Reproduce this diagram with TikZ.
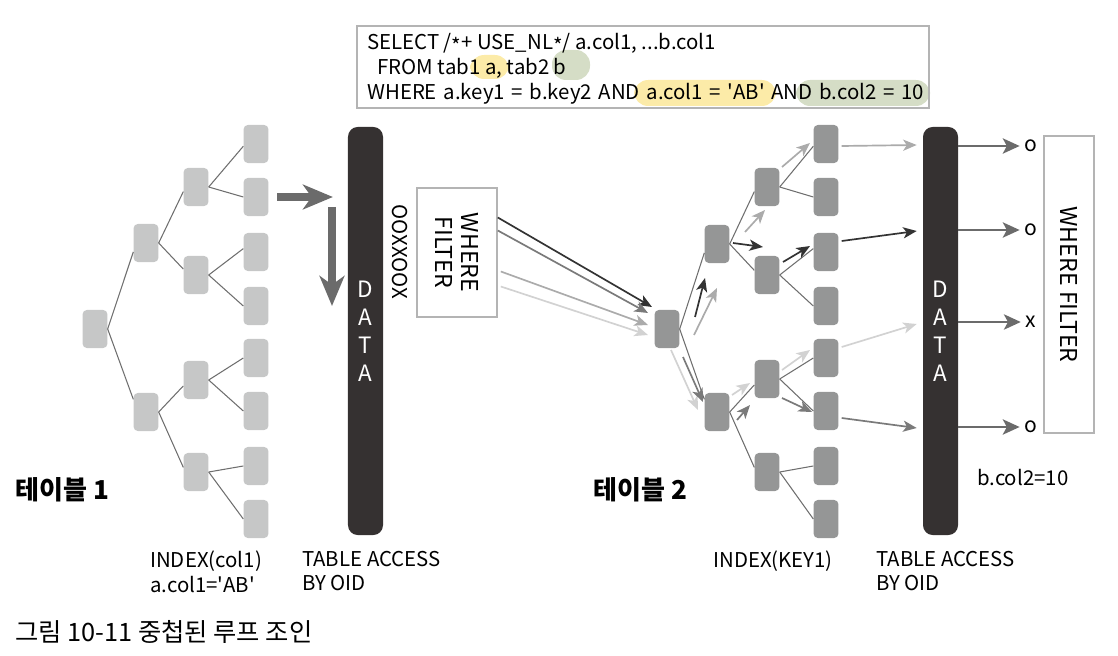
\documentclass[tikz,border=0pt]{standalone}
\usepackage{fontspec}
\setmainfont{Noto Sans CJK KR}
\usetikzlibrary{positioning,arrows.meta,calc}
\definecolor{idxlight}{HTML}{C6C7C7}
\definecolor{idxdark}{HTML}{959696}
\definecolor{barcol}{HTML}{353131}
\definecolor{edgecol}{HTML}{6E6E6E}
\definecolor{fatcol}{HTML}{6B6B6B}
\definecolor{pathdk}{HTML}{333333}
\definecolor{pathmd}{HTML}{7A7A7A}
\definecolor{pathlt}{HTML}{ABABAB}
\definecolor{pathvlt}{HTML}{D2D2D2}
\definecolor{hlyel}{HTML}{FCEBA8}
\definecolor{hlgrn}{HTML}{D5DDC6}
\definecolor{boxline}{HTML}{B4B4B4}
\newcommand{\midast}{\raisebox{-0.3ex}{*}}
\tikzset{
  idx/.style={fill=#1,rounded corners=3pt,minimum width=0.62cm,minimum height=0.95cm,inner sep=0pt},
  databar/.style={fill=barcol,rounded corners=7pt,minimum width=0.875cm,minimum height=10.2cm,
    text=white,align=center,font=\fontsize{16}{19.8}\selectfont},
  treeline/.style={draw=edgecol,line width=0.75pt},
  fatarrow/.style={draw=fatcol,line width=5pt,-{Stealth[length=0.75cm,width=0.62cm,inset=0.22cm]}},
  patharrow/.style={draw=#1,line width=1.2pt,-{Stealth[length=0.34cm,width=0.28cm,inset=0.09cm]}},
  outarrow/.style={draw=fatcol,line width=2pt,-{Stealth[length=0.42cm,width=0.38cm,inset=0.1cm]}},
  filterbox/.style={draw=boxline,line width=1.1pt,rotate=-90,align=center,font=\fontsize{16.5}{19}\selectfont},
  caption/.style={align=left,font=\fontsize{14.5}{17.2}\selectfont,inner sep=0pt}
}
\begin{document}
\begin{tikzpicture}[x=0.025cm,y=-0.025cm]
\useasboundingbox (0,0) rectangle (1118,656);

% query box with highlights
\fill[hlyel,rounded corners=10pt] (470,55) rectangle (509,79);
\fill[hlgrn,rounded corners=10pt] (552,50) rectangle (590,80);
\fill[hlyel,rounded corners=10pt] (634,80) rectangle (776,106);
\fill[hlgrn,rounded corners=10pt] (796,80) rectangle (930,106);
\node[draw=boxline,line width=1.1pt,anchor=north west,minimum width=14.3cm,minimum height=2.05cm,inner sep=0pt] (sql) at (356,25) {};
\node[anchor=west,align=left,inner sep=0pt,font=\fontsize{14.5}{17.6}\selectfont] (sqltext) at ($(sql.west)+(11,2)$)
  {SELECT /\midast+ USE\_NL\midast/ a.col1, ...b.col1\\
   \hspace{0.5em}FROM tab1 a, tab2 b\\
   {\spaceskip=0.33em\relax WHERE a.key1 = b.key2 AND a.col1 = \textquotesingle AB\textquotesingle\ AND b.col2 = 10}};

% table 1 index
\node[idx=idxlight] (r1) at (95,329) {};
\node[idx=idxlight] (u1) at (146,243) {};
\node[idx=idxlight] (d1) at (146,412) {};
\node[idx=idxlight] (uu1) at (196,187) {};
\node[idx=idxlight] (ud1) at (196,275) {};
\node[idx=idxlight] (du1) at (196,380) {};
\node[idx=idxlight] (dd1) at (196,472) {};
\node[idx=idxlight] (l11) at (256,144) {};
\node[idx=idxlight] (l12) at (256,197) {};
\node[idx=idxlight] (l13) at (256,252) {};
\node[idx=idxlight] (l14) at (256,306) {};
\node[idx=idxlight] (l15) at (256,358) {};
\node[idx=idxlight] (l16) at (256,411) {};
\node[idx=idxlight] (l17) at (256,466) {};
\node[idx=idxlight] (l18) at (256,519) {};
\draw[treeline] (r1.east) -- (u1.215);
\draw[treeline] (r1.east) -- (d1.135);
\draw[treeline] (u1.east) -- (uu1.200);
\draw[treeline] (u1.east) -- (ud1.155);
\draw[treeline] (d1.east) -- (du1.205);
\draw[treeline] (d1.east) -- (dd1.160);
\draw[treeline] (uu1.east) -- (l11.190);
\draw[treeline] (uu1.east) -- (l12.west);
\draw[treeline] (ud1.east) -- (l13.165);
\draw[treeline] (ud1.east) -- (l14.west);
\draw[treeline] (du1.east) -- (l15.west);
\draw[treeline] (du1.east) -- (l16.west);
\draw[treeline] (dd1.east) -- (l17.west);
\draw[treeline] (dd1.east) -- (l18.west);

\node[databar] (data1) at (365.5,331) {D\\A\\T\\A};
\coordinate (down1) at (332,207);
\coordinate (down2) at (332,306);
\draw[fatarrow,shorten <=6pt,shorten >=0.37cm] (l12.east) -- (l12.east -| data1.west);
\draw[fatarrow] (down1) -- (down2);

\node[rotate=-90,font=\fontsize{14.5}{17}\selectfont] (marks) at (400,252) {OOXXOOX};
\node[filterbox,minimum width=3.225cm,minimum height=2cm] (filter1) at (457,252.5) {WHERE\\FILTER};

% table 2 index
\node[idx=idxdark] (r2) at (667,329) {};
\node[idx=idxdark] (u2) at (717,244) {};
\node[idx=idxdark] (d2) at (717,412) {};
\node[idx=idxdark] (uu2) at (767,187) {};
\node[idx=idxdark] (ud2) at (767,275) {};
\node[idx=idxdark] (du2) at (767,379) {};
\node[idx=idxdark] (dd2) at (767,472) {};
\node[idx=idxdark] (l21) at (826,144) {};
\node[idx=idxdark] (l22) at (826,197) {};
\node[idx=idxdark] (l23) at (826,252) {};
\node[idx=idxdark] (l24) at (826,306) {};
\node[idx=idxdark] (l25) at (826,358) {};
\node[idx=idxdark] (l26) at (826,411) {};
\node[idx=idxdark] (l27) at (826,466) {};
\node[idx=idxdark] (l28) at (826,519) {};
\draw[treeline] (r2.east) -- (u2.215);
\draw[treeline] (r2.east) -- (d2.135);
\draw[treeline] (u2.east) -- (uu2.200);
\draw[treeline] (u2.east) -- (ud2.160);
\draw[treeline] (d2.east) -- (du2.205);
\draw[treeline] (d2.east) -- (dd2.160);
\draw[treeline] (uu2.east) -- (l21.190);
\draw[treeline] (uu2.east) -- (l22.west);
\draw[treeline] (ud2.east) -- (l23.165);
\draw[treeline] (ud2.east) -- (l24.west);
\draw[treeline] (du2.east) -- (l25.west);
\draw[treeline] (du2.east) -- (l26.west);
\draw[treeline] (dd2.east) -- (l27.west);
\draw[treeline] (dd2.east) -- (l28.west);

% rows passed from the filter into the inner loop
\draw[patharrow=pathdk] ($(filter1.north)+(0,-35)$) -- ($(r2)+(-15,-22)$);
\draw[patharrow=pathmd] ($(filter1.north)+(0,-22)$) -- ($(r2)+(-19,-16)$);
\draw[patharrow=pathlt] ($(filter1.north)+(3,19)$) -- ($(r2)+(-19,-4)$);
\draw[patharrow=pathvlt] ($(filter1.north)+(3,34)$) -- ($(r2)+(-19,6)$);

% index scan paths
\draw[patharrow=pathdk] ($(r2)+(28,-12)$) -- ($(u2)+(-12,34)$);
\draw[patharrow=pathlt] ($(r2)+(27,6)$) -- ($(u2)+(0,44)$);
\draw[patharrow=pathvlt] ($(r2)+(4,21)$) -- ($(d2)+(-19,-2)$);
\draw[patharrow=pathmd] ($(r2)+(16,28)$) -- ($(d2)+(-14,-10)$);
\draw[patharrow=pathlt] ($(u2)+(28,-12)$) -- ($(uu2)+(-2,23)$);
\draw[patharrow=pathdk] ($(u2)+(16,-1)$) -- ($(ud2)+(-4,-28)$);
\draw[patharrow=pathlt] ($(uu2)+(15,-20)$) -- ($(l21)+(-16,-1)$);
\draw[patharrow=pathdk] ($(ud2)+(16,-13)$) -- ($(l23)+(-16,-6)$);
\draw[patharrow=pathvlt] ($(d2)+(15,-17)$) -- ($(du2)+(-17,4)$);
\draw[patharrow=pathmd] ($(d2)+(20,8)$) -- ($(du2)+(-17,26)$);
\draw[patharrow=pathvlt] ($(du2)+(15,-9)$) -- ($(l25)+(-16,-8)$);
\draw[patharrow=pathmd] ($(du2)+(15,19)$) -- ($(l26)+(-14,1)$);

\node[databar] (data2) at (940.5,331) {D\\A\\T\\A};
\draw[patharrow=pathlt] ($(l21.east)+(3,2)$) -- ($(data2.west)+(-6,-186)$);
\draw[patharrow=pathdk] ($(l23.east)+(3,-11)$) -- ($(data2.west)+(-6,-100)$);
\draw[patharrow=pathvlt] ($(l25.east)+(3,-11)$) -- ($(data2.west)+(-6,-7)$);
\draw[patharrow=pathmd] ($(l26.east)+(3,7)$) -- ($(data2.west)+(-6,97)$);

% filter on table 2
\node[font=\fontsize{15}{17}\selectfont] (o1) at (1031,146) {o};
\node[font=\fontsize{15}{17}\selectfont] (o2) at (1031,230) {o};
\node[font=\fontsize{15}{17}\selectfont] (x3) at (1031,322) {x};
\node[font=\fontsize{15}{17}\selectfont] (o4) at (1031,427) {o};
\draw[outarrow] (data2.east |- o1) -- (o1);
\draw[outarrow] (data2.east |- o2) -- (o2);
\draw[outarrow] (data2.east |- x3) -- (x3);
\draw[outarrow] (data2.east |- o4) -- (o4);
\node[filterbox,minimum width=7.425cm,minimum height=1.25cm] (filter2) at (1069,284.5) {WHERE FILTER};
\node[caption,anchor=west] (cond2) at (977,478) {b.col2=10};

% labels
\node[caption,anchor=west,font=\fontsize{18.5}{20}\selectfont\bfseries] (tab1) at (15,490) {테이블 1};
\node[caption,anchor=west,font=\fontsize{18.5}{20}\selectfont\bfseries] (tab2) at (593,490) {테이블 2};
\node[caption,anchor=north west] (idxlab1) at (150,551) {INDEX(col1)\\a.col1=\textquotesingle AB\textquotesingle};
\node[caption,anchor=north west] (acclab1) at (302,551) {TABLE ACCESS\\BY OID};
\node[caption,anchor=north west] (idxlab2) at (713,551) {INDEX(KEY1)};
\node[caption,anchor=north west] (acclab2) at (876,551) {TABLE ACCESS\\BY OID};
\node[caption,anchor=west,font=\fontsize{18}{20}\selectfont] (figcap) at (15,632) {그림 10-11 중첩된 루프 조인};
\end{tikzpicture}
\end{document}
